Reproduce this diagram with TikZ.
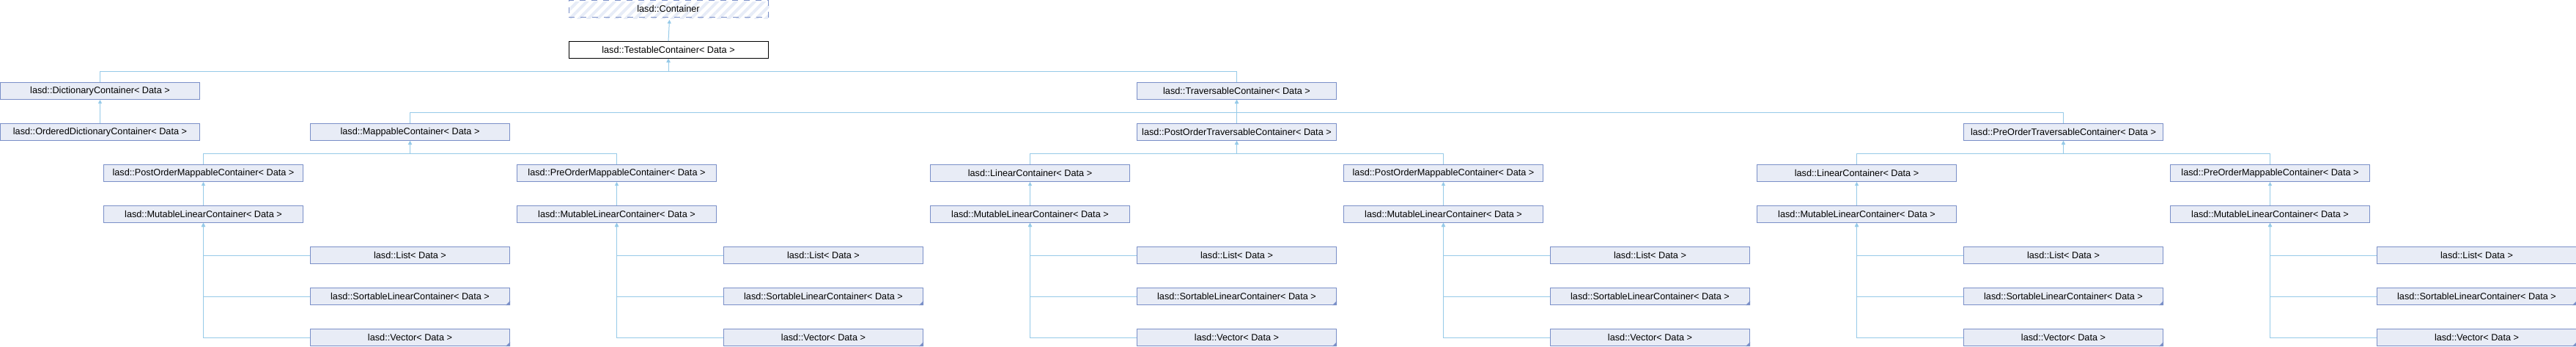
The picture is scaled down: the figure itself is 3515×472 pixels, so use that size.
\documentclass[tikz,border=0pt]{standalone}
\usepackage{fontspec}
\setmainfont{Liberation Sans}
\usetikzlibrary{arrows.meta,patterns.meta}
\definecolor{boxfill}{RGB}{232,236,246}
\definecolor{boxline}{RGB}{122,143,200}
\definecolor{edgeline}{RGB}{150,202,232}
\definecolor{hatch}{RGB}{231,236,247}
\tikzset{
  cls/.style={draw=boxline, fill=boxfill, line width=1pt, minimum width=272pt, minimum height=23pt,
    inner sep=0pt, anchor=north west, font=\fontsize{12.7}{14}\selectfont},
  edge/.style={draw=edgeline, line width=1pt, {Triangle[length=5pt,width=5pt]}-},
  corner/.style={fill=boxline}
}
\begin{document}
\begin{tikzpicture}[x=1pt,y=-1pt]
  \useasboundingbox (0,0) rectangle (3515,472);

  % 顶层
  \node[cls, draw=none, fill=none, pattern={Lines[angle=45,distance=9pt,line width=4pt]}, pattern color=hatch] (cont) at (775.5,0) {};
  \node[cls, fill=none, dash pattern=on 8pt off 8pt] at (775.5,0) {lasd::Container};
  \node[cls, draw=black, fill=white] (testable) at (775.5,56) {lasd::TestableContainer< Data >};

  % 第二、三层
  \node[cls] (dict) at (0,112) {lasd::DictionaryContainer< Data >};
  \node[cls] (trav) at (1551,112) {lasd::TraversableContainer< Data >};
  \node[cls] (odict) at (0,168) {lasd::OrderedDictionaryContainer< Data >};
  \node[cls] (mapp) at (423,168) {lasd::MappableContainer< Data >};
  \node[cls] (potrav) at (1551,168) {lasd::PostOrderTraversableContainer< Data >};
  \node[cls] (pretrav) at (2679,168) {lasd::PreOrderTraversableContainer< Data >};

  % 第四层
  \node[cls] (pomapp1) at (141,224) {lasd::PostOrderMappableContainer< Data >};
  \node[cls] (premapp1) at (705,224) {lasd::PreOrderMappableContainer< Data >};
  \node[cls] (lin1) at (1269,224) {lasd::LinearContainer< Data >};
  \node[cls] (pomapp2) at (1833,224) {lasd::PostOrderMappableContainer< Data >};
  \node[cls] (lin2) at (2397,224) {lasd::LinearContainer< Data >};
  \node[cls] (premapp2) at (2961,224) {lasd::PreOrderMappableContainer< Data >};

  % 第五层
  \node[cls] (mut1) at (141,280) {lasd::MutableLinearContainer< Data >};
  \node[cls] (mut2) at (705,280) {lasd::MutableLinearContainer< Data >};
  \node[cls] (mut3) at (1269,280) {lasd::MutableLinearContainer< Data >};
  \node[cls] (mut4) at (1833,280) {lasd::MutableLinearContainer< Data >};
  \node[cls] (mut5) at (2397,280) {lasd::MutableLinearContainer< Data >};
  \node[cls] (mut6) at (2961,280) {lasd::MutableLinearContainer< Data >};

  % 叶子
  \node[cls] (list1) at (423,336) {lasd::List< Data >};
  \node[cls] (sort1) at (423,392) {lasd::SortableLinearContainer< Data >};
  \node[cls] (vec1) at (423,448) {lasd::Vector< Data >};
  \node[cls] (list2) at (987,336) {lasd::List< Data >};
  \node[cls] (sort2) at (987,392) {lasd::SortableLinearContainer< Data >};
  \node[cls] (vec2) at (987,448) {lasd::Vector< Data >};
  \node[cls] (list3) at (1551,336) {lasd::List< Data >};
  \node[cls] (sort3) at (1551,392) {lasd::SortableLinearContainer< Data >};
  \node[cls] (vec3) at (1551,448) {lasd::Vector< Data >};
  \node[cls] (list4) at (2115,336) {lasd::List< Data >};
  \node[cls] (sort4) at (2115,392) {lasd::SortableLinearContainer< Data >};
  \node[cls] (vec4) at (2115,448) {lasd::Vector< Data >};
  \node[cls] (list5) at (2679,336) {lasd::List< Data >};
  \node[cls] (sort5) at (2679,392) {lasd::SortableLinearContainer< Data >};
  \node[cls] (vec5) at (2679,448) {lasd::Vector< Data >};
  \node[cls] (list6) at (3243,336) {lasd::List< Data >};
  \node[cls] (sort6) at (3243,392) {lasd::SortableLinearContainer< Data >};
  \node[cls] (vec6) at (3243,448) {lasd::Vector< Data >};

  % 右下角小三角
  \fill[corner] (sort1.south east) -- ++(-6,0) -- ++(6,-6) -- cycle;
  \fill[corner] (vec1.south east) -- ++(-6,0) -- ++(6,-6) -- cycle;
  \fill[corner] (sort2.south east) -- ++(-6,0) -- ++(6,-6) -- cycle;
  \fill[corner] (vec2.south east) -- ++(-6,0) -- ++(6,-6) -- cycle;
  \fill[corner] (sort3.south east) -- ++(-6,0) -- ++(6,-6) -- cycle;
  \fill[corner] (vec3.south east) -- ++(-6,0) -- ++(6,-6) -- cycle;
  \fill[corner] (sort4.south east) -- ++(-6,0) -- ++(6,-6) -- cycle;
  \fill[corner] (vec4.south east) -- ++(-6,0) -- ++(6,-6) -- cycle;
  \fill[corner] (sort5.south east) -- ++(-6,0) -- ++(6,-6) -- cycle;
  \fill[corner] (vec5.south east) -- ++(-6,0) -- ++(6,-6) -- cycle;
  \fill[corner] (sort6.south east) -- ++(-6,0) -- ++(6,-6) -- cycle;
  \fill[corner] (vec6.south east) -- ++(-6,0) -- ++(6,-6) -- cycle;

  % 继承连线
  \draw[edge] (cont.south) -- (testable.north);
  \draw[edge] (testable.south) -- ++(0,17) -| (dict.north);
  \draw[edge] (testable.south) -- ++(0,17) -| (trav.north);
  \draw[edge] (dict.south) -- (odict.north);
  \draw[edge] (trav.south) -- ++(0,17) -| (mapp.north);
  \draw[edge] (trav.south) -- (potrav.north);
  \draw[edge] (trav.south) -- ++(0,17) -| (pretrav.north);
  \draw[edge] (mapp.south) -- ++(0,17) -| (pomapp1.north);
  \draw[edge] (mapp.south) -- ++(0,17) -| (premapp1.north);
  \draw[edge] (potrav.south) -- ++(0,17) -| (lin1.north);
  \draw[edge] (potrav.south) -- ++(0,17) -| (pomapp2.north);
  \draw[edge] (pretrav.south) -- ++(0,17) -| (lin2.north);
  \draw[edge] (pretrav.south) -- ++(0,17) -| (premapp2.north);
  \draw[edge] (pomapp1.south) -- (mut1.north);
  \draw[edge] (premapp1.south) -- (mut2.north);
  \draw[edge] (lin1.south) -- (mut3.north);
  \draw[edge] (pomapp2.south) -- (mut4.north);
  \draw[edge] (lin2.south) -- (mut5.north);
  \draw[edge] (premapp2.south) -- (mut6.north);

  % 叶子连线
  \draw[edge] (mut1.south) |- (list1.west);
  \draw[edge] (mut1.south) |- (sort1.west);
  \draw[edge] (mut1.south) |- (vec1.west);
  \draw[edge] (mut2.south) |- (list2.west);
  \draw[edge] (mut2.south) |- (sort2.west);
  \draw[edge] (mut2.south) |- (vec2.west);
  \draw[edge] (mut3.south) |- (list3.west);
  \draw[edge] (mut3.south) |- (sort3.west);
  \draw[edge] (mut3.south) |- (vec3.west);
  \draw[edge] (mut4.south) |- (list4.west);
  \draw[edge] (mut4.south) |- (sort4.west);
  \draw[edge] (mut4.south) |- (vec4.west);
  \draw[edge] (mut5.south) |- (list5.west);
  \draw[edge] (mut5.south) |- (sort5.west);
  \draw[edge] (mut5.south) |- (vec5.west);
  \draw[edge] (mut6.south) |- (list6.west);
  \draw[edge] (mut6.south) |- (sort6.west);
  \draw[edge] (mut6.south) |- (vec6.west);
\end{tikzpicture}
\end{document}
